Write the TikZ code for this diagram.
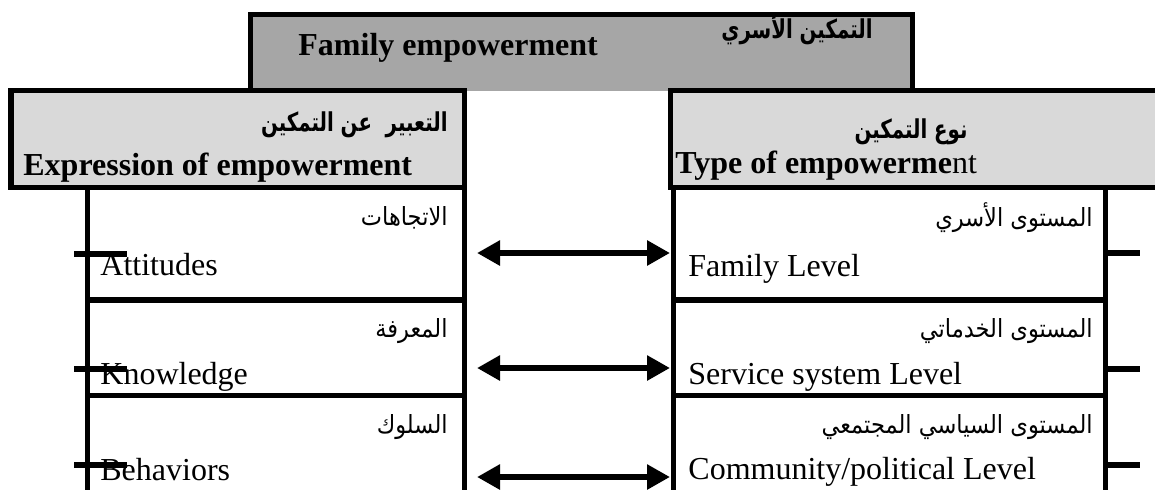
\documentclass[tikz,border=0pt]{standalone}
\usepackage{fontspec}
\usepackage{graphicx}
\setmainfont{Liberation Serif}
\newfontfamily\arabicfont[Script=Arabic]{DejaVu Sans}
\TeXXeTstate=1
\usetikzlibrary{arrows.meta}
\definecolor{titlegray}{HTML}{A6A6A6}
\definecolor{headgray}{HTML}{D9D9D9}
% narrowed Arabic text: bold headings and plain entries
\newcommand{\arhead}[1]{\scalebox{0.76}[1]{\beginR #1\endR}}
\newcommand{\arentry}[1]{\scalebox{0.9}[1]{\beginR #1\endR}}

\begin{document}
\begin{tikzpicture}[x=0.5pt,y=-0.5pt,
  frame/.style={line width=2.6pt},
  en/.style={inner sep=0pt, font=\fontsize{16}{19}\selectfont},
  enb/.style={inner sep=0pt, font=\fontsize{16}{19}\selectfont\bfseries},
  ar/.style={inner sep=0pt, font=\fontsize{12.5}{14}\selectfont\arabicfont},
  arb/.style={inner sep=0pt, font=\fontsize{13}{15}\selectfont\arabicfont\bfseries},
  stub/.style={line width=3.3pt},
  link/.style={line width=3.3pt,
    {Triangle[length=11.5pt,width=12pt]}-{Triangle[length=11.5pt,width=12pt]}}
]
\path[use as bounding box, clip] (0,0) rectangle (1155,489);

% background fills of the title and the two column heads
\fill[titlegray] (250.5,14.5) rectangle (912.5,90.5);
\fill[headgray] (11,90.5) rectangle (464.5,187.5);
\fill[headgray] (670.5,90.5) rectangle (1180,187.5);

% title box and column heads
\draw[frame] (250.5,90.5) -- (250.5,14.5) -- (912.5,14.5) -- (912.5,90.5);
\draw[frame] (11,90.5) rectangle (464.5,187.5);
\draw[frame] (670.5,90.5) rectangle (1180,187.5);

% left column rows
\draw[frame] (87.5,187.5) -- (87.5,500);
\draw[frame] (464.5,187.5) -- (464.5,500);
\draw[frame] (87.5,300) -- (464.5,300);
\draw[frame] (87.5,395.5) -- (464.5,395.5);

% right column rows
\draw[frame] (673.5,187.5) -- (673.5,500);
\draw[frame] (1105.5,187.5) -- (1105.5,500);
\draw[frame] (673.5,300) -- (1105.5,300);
\draw[frame] (673.5,395.5) -- (1105.5,395.5);

% title texts
\node[enb, anchor=base west] (titleEn) at (298,55) {Family empowerment};
\node[arb, anchor=base] (titleAr) at (797,38) {\arhead{التمكين الأسري}};

% column heads
\node[arb, anchor=base east] (leftHeadAr) at (448,131) {\arhead{التعبير\ \ عن التمكين}};
\node[enb, anchor=base west] (leftHeadEn) at (23,175) {Expression of empowerment};
\node[arb, anchor=base] (rightHeadAr) at (911,138) {\arhead{نوع التمكين}};
\node[en, anchor=base west] (rightHeadEn) at (675,173) {\textbf{Type of empowerme}nt};

% left column entries
\node[ar, anchor=base east] (l1ar) at (448,225) {\arentry{الاتجاهات}};
\node[en, anchor=base west] (l1en) at (100,275) {Attitudes};
\node[ar, anchor=base east] (l2ar) at (448,337) {\arentry{المعرفة}};
\node[en, anchor=base west] (l2en) at (100,384) {Knowledge};
\node[ar, anchor=base east] (l3ar) at (448,433) {\arentry{السلوك}};
\node[en, anchor=base west] (l3en) at (100,480) {Behaviors};

% right column entries
\node[ar, anchor=base east] (r1ar) at (1093,226) {\arentry{المستوى الأسري}};
\node[en, anchor=base west] (r1en) at (688,276) {Family Level};
\node[ar, anchor=base east] (r2ar) at (1093,337) {\arentry{المستوى الخدماتي}};
\node[en, anchor=base west] (r2en) at (688,384) {Service system Level};
\node[ar, anchor=base east] (r3ar) at (1093,433) {\arentry{المستوى السياسي المجتمعي}};
\node[en, anchor=base west] (r3en) at (688,479) {Community/political Level};

% stub ends on both sides
\coordinate (ls1a) at (74,254);  \coordinate (ls1b) at (127,254);
\coordinate (ls2a) at (74,369);  \coordinate (ls2b) at (127,369);
\coordinate (ls3a) at (74,465);  \coordinate (ls3b) at (127,465);
\coordinate (rs1a) at (1105,253); \coordinate (rs1b) at (1140,253);
\coordinate (rs2a) at (1105,369); \coordinate (rs2b) at (1140,369);
\coordinate (rs3a) at (1105,465); \coordinate (rs3b) at (1140,465);
\draw[stub] (ls1a) -- (ls1b);
\draw[stub] (ls2a) -- (ls2b);
\draw[stub] (ls3a) -- (ls3b);
\draw[stub] (rs1a) -- (rs1b);
\draw[stub] (rs2a) -- (rs2b);
\draw[stub] (rs3a) -- (rs3b);

% two-way links between matching rows
\coordinate (a1l) at (477,253); \coordinate (a1r) at (670,253);
\coordinate (a2l) at (477,368); \coordinate (a2r) at (670,368);
\coordinate (a3l) at (477,477); \coordinate (a3r) at (670,477);
\draw[link] (a1l) -- (a1r);
\draw[link] (a2l) -- (a2r);
\draw[link] (a3l) -- (a3r);
\end{tikzpicture}
\end{document}
